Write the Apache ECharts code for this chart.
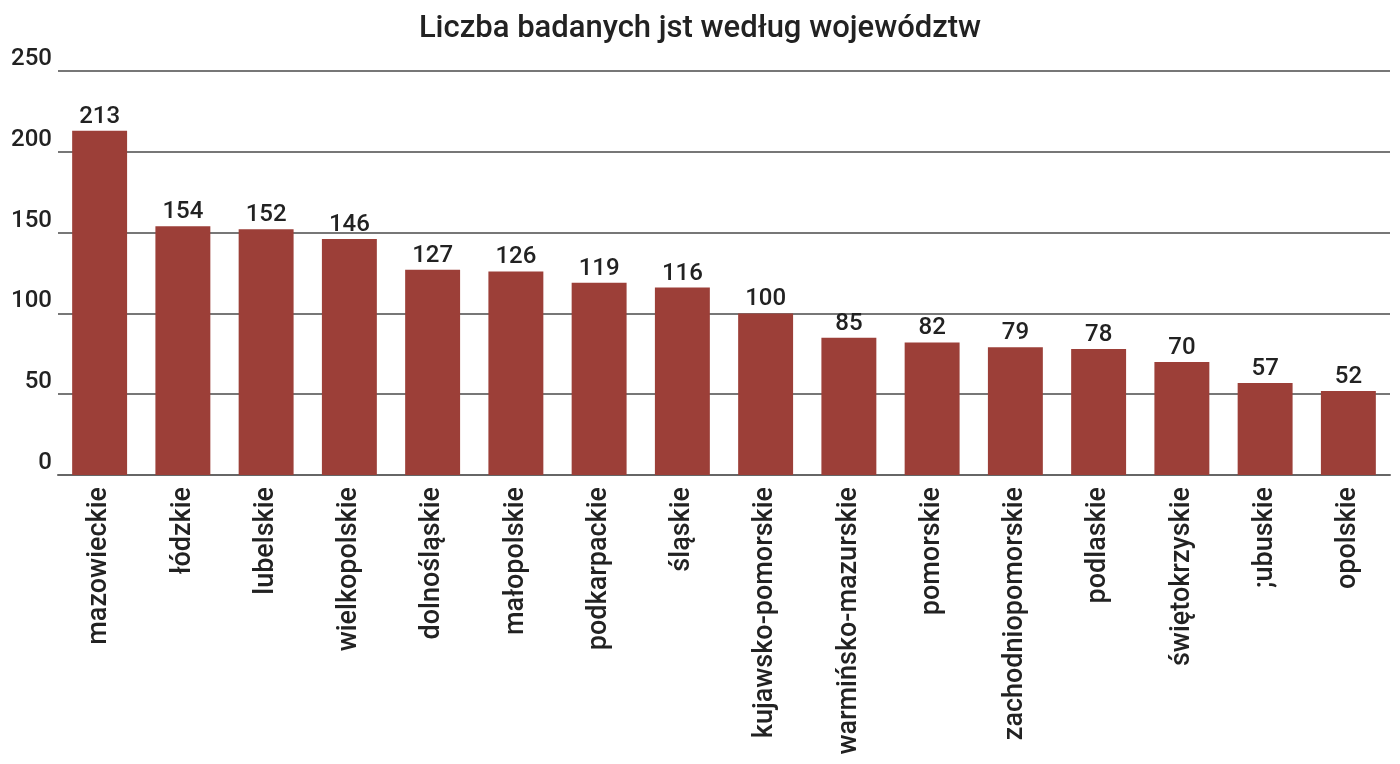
<!DOCTYPE html>
<html>
<head>
<meta charset="utf-8">
<script src="https://cdn.jsdelivr.net/npm/echarts@6/dist/echarts.min.js"></script>
<style>
html, body { margin: 0; padding: 0; background: #fff; }
#chart { width: 1400px; height: 764px; }
</style>
</head>
<body>
<div id="chart"></div>
<script>
var categories = ['mazowieckie', 'łódzkie', 'lubelskie', 'wielkopolskie', 'dolnośląskie', 'małopolskie',
    'podkarpackie', 'śląskie', 'kujawsko-pomorskie', 'warmińsko-mazurskie', 'pomorskie',
    'zachodniopomorskie', 'podlaskie', 'świętokrzyskie', ';ubuskie', 'opolskie'];
var values = [213, 154, 152, 146, 127, 126, 119, 116, 100, 85, 82, 79, 78, 70, 57, 52];

var myChart = echarts.init(document.getElementById('chart'));
var font = 'Roboto';

var option = {
    animation: false,
    title: {
        text: 'Liczba badanych jst według województw',
        left: 'center',
        top: 9,
        textStyle: {
            color: '#222',
            fontFamily: font,
            fontWeight: 500,
            fontSize: 31
        }
    },
    grid: {
        left: 58,
        right: 10,
        top: 71,
        bottom: 289,
        containLabel: false
    },
    xAxis: {
        type: 'category',
        data: categories,
        axisLine: { show: true, lineStyle: { color: '#666', width: 2 } },
        axisTick: { show: false },
        axisLabel: {
            rotate: 90,
            interval: 0,
            margin: 12,
            color: '#222',
            fontFamily: font,
            fontWeight: 500,
            fontSize: 27
        }
    },
    yAxis: {
        type: 'value',
        min: 0,
        max: 250,
        interval: 50,
        axisLine: { show: false },
        axisTick: { show: false },
        axisLabel: {
            color: '#222',
            fontFamily: font,
            fontWeight: 500,
            fontSize: 24,
            margin: 6,
            verticalAlign: 'bottom'
        },
        splitLine: { show: true, lineStyle: { color: '#777', width: 2 } }
    },
    series: [
        {
            type: 'bar',
            data: values,
            barWidth: '66%',
            itemStyle: { color: '#9c3f38' },
            label: {
                show: true,
                position: 'top',
                distance: 2,
                color: '#222',
                fontFamily: font,
                fontWeight: 500,
                fontSize: 24
            }
        }
    ]
};

myChart.setOption(option);
</script>
</body>
</html>
